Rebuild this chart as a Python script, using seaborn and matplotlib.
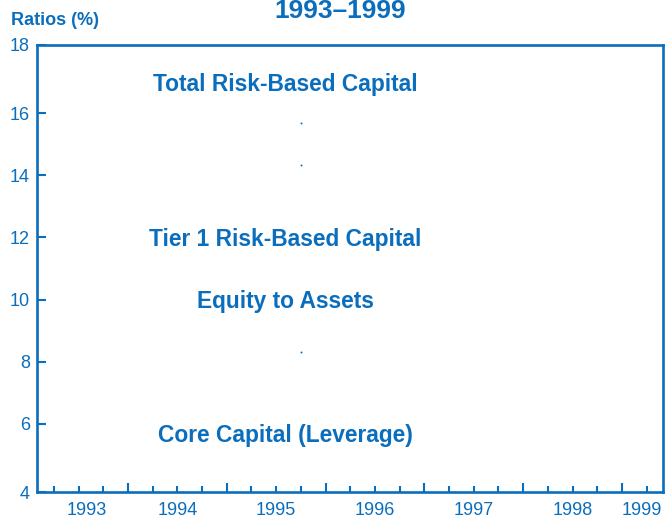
import matplotlib
matplotlib.use("Agg")
import matplotlib.pyplot as plt
import seaborn as sns
import pandas as pd
import numpy as np

# ---- data ----
series_labels = ["Total Risk-Based Capital", "Tier 1 Risk-Based Capital",
                 "Equity to Assets", "Core Capital (Leverage)"]
label_values = [16.93, 11.93, 9.93, 5.62]
label_year = 1995.59

dot_years = [1995.75, 1995.75, 1995.75]
dot_values = [15.69, 14.33, 8.31]

year_labels = ["1993", "1994", "1995", "1996", "1997", "1998", "1999"]
year_label_pos = [1993.58, 1994.5, 1995.5, 1996.5, 1997.5, 1998.5, 1999.2]
year_ticks = [1994, 1995, 1996, 1997, 1998, 1999]
ytick_labels = ["4", "6", "8", "10", "12", "14", "16", "18"]

title = "1993\u20131999"
ylabel = "Ratios (%)"

BLUE = "#0B6EBC"

sns.set_theme(style="white")
plt.rcParams["font.family"] = ["Liberation Sans", "DejaVu Sans"]

fig = plt.figure(figsize=(6.72, 5.18), dpi=100)
ax = fig.add_axes([36.7 / 672, 1 - 492.3 / 518, (663.3 - 36.7) / 672, (492.3 - 44.7) / 518])

df = pd.DataFrame({"year": dot_years, "value": dot_values})
sns.scatterplot(data=df, x="year", y="value", s=2, color=BLUE, linewidth=0, ax=ax)

x0, x1 = 1993.076, 1999.418
y0, y1 = 3.787, 18.213
ax.set_xlim(x0, x1)
ax.set_ylim(y0, y1)
ax.set_xlabel("")
ax.set_ylabel("")

for s in ax.spines.values():
    s.set_visible(True)
    s.set_color(BLUE)
    s.set_linewidth(1.9)

# y ticks
ax.set_yticks([y0, 6, 8, 10, 12, 14, 16, y1])
ax.set_yticklabels(ytick_labels)
ax.tick_params(axis="y", which="major", direction="in", length=6.5, width=1.5,
               color=BLUE, labelcolor=BLUE, labelsize=13, pad=5.0, left=True)

# x ticks
quarters = [y + q for y in range(1993, 2000) for q in (0.25, 0.5, 0.75)]
quarters = [q for q in quarters if x0 < q < x1]
ax.set_xticks(year_ticks)
ax.set_xticks(quarters, minor=True)
ax.set_xticklabels([])
ax.tick_params(axis="x", which="major", direction="in", length=6.5, width=1.5,
               color=BLUE, bottom=True)
ax.tick_params(axis="x", which="minor", direction="in", length=4.2, width=1.5,
               color=BLUE, bottom=True)

for lab, pos in zip(year_labels, year_label_pos):
    ax.annotate(lab, xy=(pos, 0), xycoords=("data", "axes fraction"),
                xytext=(0, -16.0), textcoords="offset points",
                ha="center", va="baseline", fontsize=13, color=BLUE)

for txt, val in zip(series_labels, label_values):
    ax.text(label_year, val, txt, ha="center", va="center", fontsize=16.4,
            fontweight="bold", color=BLUE)

fig.text(340 / 672, 1 - 17.5 / 518, title, ha="center", va="baseline",
         fontsize=19, fontweight="bold", color=BLUE)
fig.text(11 / 672, 1 - 25 / 518, ylabel, ha="left", va="baseline",
         fontsize=13, fontweight="bold", color=BLUE)

fig.savefig("out.png", dpi=100)
